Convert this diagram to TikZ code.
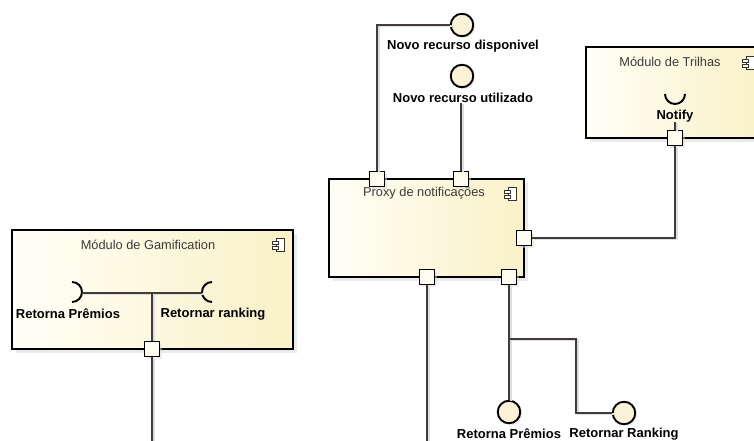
\documentclass[tikz,border=0pt]{standalone}
\usepackage{fontspec}
\setmainfont{Liberation Sans}
\usetikzlibrary{shadows}

\definecolor{boxL}{HTML}{FFFFF7}
\definecolor{boxR}{HTML}{FAF1C6}
\definecolor{portfill}{HTML}{FFFDF0}
\definecolor{ifill}{HTML}{FAF2D6}
\definecolor{wirec}{HTML}{453A36}
\definecolor{wshadow}{HTML}{D6E0EA}
\definecolor{ttlc}{HTML}{3A3A3A}

\tikzset{
  comp/.style={draw=black, line width=2pt, left color=boxL, right color=boxR,
    inner sep=0pt, drop shadow={shadow xshift=4pt, shadow yshift=-4pt, fill=black!16}},
  port/.style={draw=black, line width=1.9pt, fill=portfill, minimum size=15pt,
    inner sep=0pt, drop shadow={shadow xshift=2pt, shadow yshift=-2pt, fill=black!14}},
  iface/.style={circle, draw=black, line width=1.9pt, fill=ifill, minimum size=22.5pt,
    inner sep=0pt, drop shadow={shadow xshift=2pt, shadow yshift=-2pt, fill=black!12}},
  wire/.style={draw=wirec, line width=1.3pt,
    preaction={draw=wshadow, line width=1.6pt, transform canvas={xshift=1.8pt, yshift=-1.2pt}}},
  sock/.style={draw=black, line width=1.9pt},
  lbl/.style={font=\bfseries\fontsize{13}{15}\selectfont, text=black, inner sep=0pt},
  ttl/.style={font=\fontsize{12.8}{15}\selectfont, text=ttlc, inner sep=0pt},
  compicon/.pic={
    \draw[line width=0.7pt, draw=black!80, fill=white] (-2,-6.5) rectangle (6,6.5);
    \draw[line width=0.7pt, draw=black!80, fill=white] (-6,-4) rectangle (0,-1);
    \draw[line width=0.7pt, draw=black!80, fill=white] (-6,1) rectangle (0,4);
  }
}

\begin{document}
\begin{tikzpicture}[x=1pt, y=-1pt]
  \clip (0,0) rectangle (754,441);
  \fill[white] (0,0) rectangle (754,441);

  % components
  \node[comp, minimum width=195pt, minimum height=98pt] (proxy) at (426.5,228) {};
  \node[ttl] (proxyT) at (424,193) {Proxy de notificações};
  \pic at (510,194) {compicon};

  \node[comp, minimum width=281pt, minimum height=119pt] (gami) at (152.5,289.5) {};
  \node[ttl] (gamiT) at (148,245) {Módulo de Gamification};
  \pic at (278,245) {compicon};

  \node[comp, minimum width=179pt, minimum height=91pt] (tril) at (675.5,92.5) {};
  \node[ttl] (trilT) at (670,62) {Módulo de Trilhas};
  \pic at (748,63) {compicon};

  % provided interfaces
  \node[iface] (i1) at (462,25) {};
  \node[lbl] (l1) at (463,46) {Novo recurso disponivel};
  \node[iface] (i2) at (462,76) {};
  \node[lbl] (l2) at (463,98) {Novo recurso utilizado};
  \node[iface] (i3) at (509,412) {};
  \node[lbl] (l3) at (509,434) {Retorna Prêmios};
  \node[iface] (i4) at (624,413) {};
  \node[lbl] (l4) at (624,434) {Retornar Ranking};

  % required interfaces
  \draw[sock] (72,282) arc[start angle=90, end angle=-90, radius=10pt];
  \coordinate (sL) at (82,293);
  \draw[sock] (212,282) arc[start angle=90, end angle=270, radius=10pt];
  \coordinate (sR) at (202,293);
  \node[lbl] (gL) at (68,314) {Retorna Prêmios};
  \node[lbl] (gR) at (213,314) {Retornar ranking};

  \draw[sock] (665,94) arc[start angle=180, end angle=360, radius=10pt];
  \node[lbl] (nt) at (675,116) {Notify};

  % wire end points and bends
  \coordinate (gj) at (152,293);
  \coordinate (bl) at (427,450);
  \coordinate (bg) at (152,450);
  \coordinate (rj) at (509,339);
  \coordinate (rk) at (576,339);
  \coordinate (rm) at (576,413);

  % connectors
  \draw[wire] (sL) -- (sR);
  \coordinate (pgTop) at (152,342);
  \draw[wire] (gj) -- (pgTop);

  \node[port] (p1) at (377,179) {};
  \node[port] (p2) at (461,179) {};
  \node[port] (p3) at (524,238) {};
  \node[port] (p4) at (427,277) {};
  \node[port] (p5) at (509,277) {};
  \node[port] (pt) at (675,138) {};
  \node[port] (pg) at (152,349) {};

  \draw[wire] (p1.north) |- (i1.west);
  \draw[wire] (p2.north) -- (p2.north |- l2.south);
  \draw[wire] (p3.east) -| (pt.south);
  \draw[wire] (pt.north) -- (pt.north |- nt.south);
  \draw[wire] (p4.south) -- (bl);
  \draw[wire] (pg.south) -- (bg);
  \draw[wire] (p5.south) -- (i3.north);
  \draw[wire] (rj) -- (rk) -- (rm) -- (i4.west);
\end{tikzpicture}
\end{document}
